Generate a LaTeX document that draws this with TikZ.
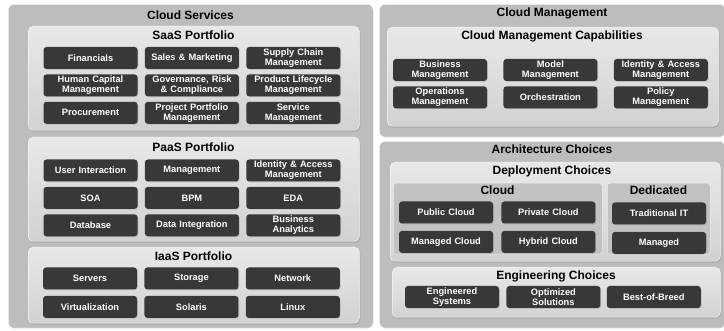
\documentclass[tikz,border=0pt]{standalone}
\usepackage{fontspec}
\setmainfont{Liberation Sans}
\usetikzlibrary{positioning,shadows}
\definecolor{outerg}{HTML}{BDBDBD}
\definecolor{panelt}{HTML}{E8E8E8}
\definecolor{panelb}{HTML}{D2D2D2}
\definecolor{subg}{HTML}{C2C2C2}
\definecolor{boxg}{HTML}{383838}

\begin{document}
\begin{tikzpicture}[x=1pt, y=-1pt,
      outer/.style={rounded corners=6pt, fill=outerg, draw=white!85!outerg, line width=0.6pt,
                    anchor=north west, inner sep=0pt},
      panel/.style={rounded corners=5pt, top color=panelt, bottom color=panelb,
                    draw=white!60!panelt, line width=0.5pt, anchor=north west, inner sep=0pt,
                    drop shadow={shadow xshift=1pt, shadow yshift=-1.5pt, opacity=.35}},
      sub/.style={rounded corners=3pt, fill=subg, draw=white!70!subg, line width=0.5pt,
                  anchor=north west, inner sep=0pt},
      ttl/.style={font=\fontsize{12}{13}\selectfont\bfseries, inner sep=0pt},
      bx/.style={rounded corners=3pt, fill=boxg, text=white, align=center, text width=94pt,
                 minimum height=22pt, inner sep=0pt,
                 font=\fontsize{9.3}{10.2}\selectfont\bfseries,
                 drop shadow={shadow xshift=0.8pt, shadow yshift=-0.8pt, opacity=.3}}]
    \useasboundingbox[fill=white] (0,0) rectangle (724,331);

    % Cloud Services
    \node[outer, minimum width=365pt, minimum height=324pt] (cs) at (8,4) {};
    \node[ttl] (cst) at (190.5,15) {Cloud Services};

    \node[panel, minimum width=331pt, minimum height=104pt] (saas) at (28,26) {};
    \node[ttl] (saast) at (193.5,35.5) {SaaS Portfolio};
    \node[bx] (fin) at (90.5,58) {Financials};
    \node[bx, right=7pt of fin] (sal) {Sales \& Marketing};
    \node[bx, right=7pt of sal] (sup) {Supply Chain\\Management};
    \node[bx, below=5pt of fin] (hcm) {Human Capital\\Management};
    \node[bx, right=7pt of hcm] (grc) {Governance, Risk\\\& Compliance};
    \node[bx, right=7pt of grc] (plm) {Product Lifecycle\\Management};
    \node[bx, below=5pt of hcm] (pro) {Procurement};
    \node[bx, right=7pt of pro] (ppm) {Project Portfolio\\Management};
    \node[bx, right=7pt of ppm] (svm) {Service\\Management};

    \node[panel, minimum width=331pt, minimum height=104pt] (paas) at (28,137) {};
    \node[ttl] (paast) at (193.5,147) {PaaS Portfolio};
    \node[bx] (ui) at (90.5,170.5) {User Interaction};
    \node[bx, right=7pt of ui] (mgt) {Management};
    \node[bx, right=7pt of mgt] (iam) {Identity \& Access\\Management};
    \node[bx, below=5pt of ui] (soa) {SOA};
    \node[bx, right=7pt of soa] (bpm) {BPM};
    \node[bx, right=7pt of bpm] (eda) {EDA};
    \node[bx, below=5pt of soa] (db) {Database};
    \node[bx, right=7pt of db] (di) {Data Integration};
    \node[bx, right=7pt of di] (ba) {Business\\Analytics};

    \node[panel, minimum width=331pt, minimum height=76pt] (iaas) at (28,247) {};
    \node[ttl] (iaast) at (193.5,256) {IaaS Portfolio};
    \node[bx] (srv) at (90,278.5) {Servers};
    \node[bx, right=7pt of srv] (sto) {Storage};
    \node[bx, right=7pt of sto] (net) {Network};
    \node[bx, below=6pt of srv] (vir) {Virtualization};
    \node[bx, right=7pt of vir] (sol) {Solaris};
    \node[bx, right=7pt of sol] (lin) {Linux};

    % Cloud Management
    \node[outer, minimum width=346pt, minimum height=133pt] (cm) at (379,4) {};
    \node[ttl] (cmt) at (552,13.5) {Cloud Management};
    \node[panel, minimum width=331pt, minimum height=99pt] (cmc) at (387,27) {};
    \node[ttl] (cmct) at (552,36.5) {Cloud Management Capabilities};
    \node[bx] (bm) at (440,70) {Business\\Management};
    \node[bx, right=16pt of bm] (mm) {Model\\Management};
    \node[bx, right=16pt of mm] (iam2) {Identity \& Access\\Management};
    \node[bx, below=5pt of bm] (om) {Operations\\Management};
    \node[bx, right=16pt of om] (orc) {Orchestration};
    \node[bx, right=16pt of orc] (pm) {Policy\\Management};

    % Architecture Choices
    \node[outer, minimum width=346pt, minimum height=187pt] (ac) at (379,141) {};
    \node[ttl] (act) at (552,149.5) {Architecture Choices};
    \node[panel, minimum width=330pt, minimum height=99pt] (dc) at (390,162) {};
    \node[ttl] (dct) at (552,171) {Deployment Choices};
    \node[sub, minimum width=209pt, minimum height=71pt] (cld) at (393,183) {};
    \node[ttl] (cldt) at (497.5,190.5) {Cloud};
    \node[sub, minimum width=103pt, minimum height=71pt] (ded) at (607,183) {};
    \node[ttl] (dedt) at (658.5,190.5) {Dedicated};
    \node[bx] (pub) at (446,212.5) {Public Cloud};
    \node[bx, right=8pt of pub] (pri) {Private Cloud};
    \node[bx, below=7pt of pub] (mc) {Managed Cloud};
    \node[bx, right=8pt of mc] (hyb) {Hybrid Cloud};
    \node[bx] (tit) at (659,213.5) {Traditional IT};
    \node[bx, below=7pt of tit] (man) {Managed};

    \node[panel, minimum width=328pt, minimum height=50pt] (ec) at (392,267) {};
    \node[ttl] (ect) at (556,276) {Engineering Choices};
    \node[bx] (es) at (452,297) {Engineered\\Systems};
    \node[bx, right=7pt of es] (os) {Optimized\\Solutions};
    \node[bx, right=6pt of os] (bob) {Best-of-Breed};
  \end{tikzpicture}
\end{document}
